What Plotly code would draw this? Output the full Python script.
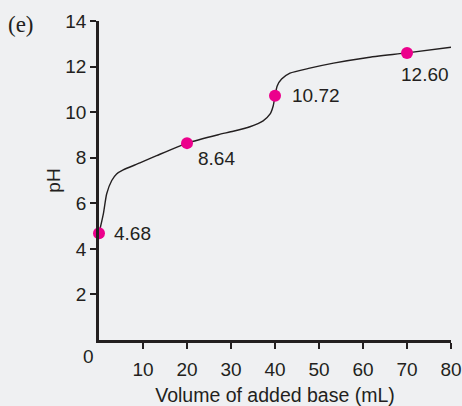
import plotly.graph_objects as go

# Titration curve
volume_ml = [0, 1.0, 1.75, 2.9, 4.0, 5.5, 9.3, 13.1, 20, 27.1, 30.5, 34.3, 37.3, 38.9, 39.6, 40, 40.5, 41.5, 43.4, 47.9, 53.3, 60.8, 70, 80]
ph_values = [4.68, 5.55, 6.42, 7.0, 7.29, 7.47, 7.77, 8.09, 8.64, 9.01, 9.16, 9.36, 9.62, 9.92, 10.28, 10.72, 11.15, 11.45, 11.71, 11.93, 12.15, 12.39, 12.60, 12.85]

# Highlighted points
point_volume = [0, 20, 40, 70]
point_ph = [4.68, 8.64, 10.72, 12.60]
point_labels = ["4.68", "8.64", "10.72", "12.60"]

x_ticks = [10, 20, 30, 40, 50, 60, 70, 80]
y_ticks = [2, 4, 6, 8, 10, 12, 14]

INK = "#231f20"
FONT = "Liberation Sans, Arial, Helvetica, sans-serif"
BG = "#eff0f2"
FS = 19

fig = go.Figure()
fig.add_trace(go.Scatter(
    x=volume_ml, y=ph_values, mode="lines",
    line=dict(color=INK, width=1.4, shape="spline", smoothing=0.6),
    hoverinfo="skip", cliponaxis=False,
))
fig.add_trace(go.Scatter(
    x=point_volume, y=point_ph, mode="markers",
    marker=dict(color="#ec008c", size=12),
    cliponaxis=False,
))

# label offsets (pixels): (xshift, yshift, xanchor)
offsets = [(13, 0, "left"), (9, -15, "left"), (15, 0, "left"), (18, -22, "center")]
for vx, vy, txt, (dx, dy, xa) in zip(point_volume, point_ph, point_labels, offsets):
    fig.add_annotation(x=vx, y=vy, text=txt, showarrow=False, xanchor=xa, yanchor="middle",
                       xshift=dx, yshift=dy, font=dict(family=FONT, size=FS, color=INK))

# corner "0"
fig.add_annotation(x=0, y=0, text="0", showarrow=False, xanchor="center", yanchor="middle",
                   xshift=-11, yshift=-16, font=dict(family=FONT, size=FS, color=INK))

# panel label
fig.add_annotation(xref="paper", yref="paper", x=-0.20, y=1.0, text="(e)", showarrow=False,
                   xanchor="center", yanchor="middle", xshift=-8, yshift=-3,
                   font=dict(family="Liberation Serif, Times New Roman, serif", size=23, color=INK))

fig.update_layout(
    width=462, height=406,
    margin=dict(l=99, r=11, t=21, b=66),
    paper_bgcolor=BG, plot_bgcolor=BG,
    showlegend=False,
    font=dict(family=FONT, size=FS, color=INK),
)
fig.update_xaxes(
    range=[0, 80], tickvals=x_ticks, ticktext=[str(v) for v in x_ticks],
    showgrid=False, zeroline=False, showline=True, linecolor=INK, linewidth=2.6,
    ticks="outside", ticklen=6, tickwidth=1.5, tickcolor=INK, automargin=False,
    ticklabelstandoff=4,
    title=dict(text="Volume of added base (mL)", standoff=12, font=dict(size=19.5)),
)
fig.update_yaxes(
    range=[0, 14], tickvals=y_ticks, ticktext=[str(v) for v in y_ticks],
    showgrid=False, zeroline=False, showline=True, linecolor=INK, linewidth=2.6,
    ticks="outside", ticklen=6, tickwidth=1.5, tickcolor=INK, automargin=False,
    title=dict(text="pH", standoff=0, font=dict(size=FS)),
)

fig.write_html("out.html", config={"displayModeBar": False},
               post_script="document.body.style.margin='0';document.body.style.background='#eff0f2';")
